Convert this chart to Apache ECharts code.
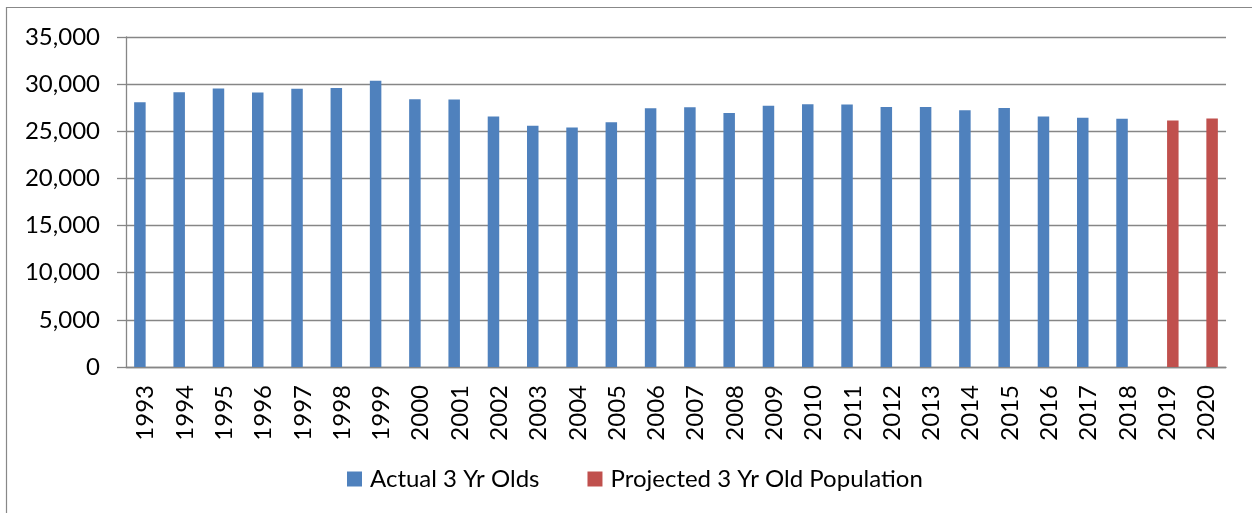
<!DOCTYPE html>
<html>
<head>
<meta charset="utf-8">
<script src="https://cdn.jsdelivr.net/npm/echarts@6/dist/echarts.min.js"></script>
<style>
html,body{margin:0;padding:0;background:#fff;}
#c{width:1252px;height:513px;}
</style>
</head>
<body>
<div id="c"></div>
<script>
var years = ['1993','1994','1995','1996','1997','1998','1999','2000','2001','2002','2003','2004','2005','2006','2007','2008','2009','2010','2011','2012','2013','2014','2015','2016','2017','2018','2019','2020'];
var actual = [28080,29150,29540,29110,29500,29580,30360,28400,28360,26580,25580,25400,25970,27430,27540,26930,27720,27860,27830,27570,27570,27220,27470,26580,26430,26330,null,null];
var projected = [null,null,null,null,null,null,null,null,null,null,null,null,null,null,null,null,null,null,null,null,null,null,null,null,null,null,26150,26360];
var yTicks = {min:0, max:35000, interval:5000};

var FONT = 'Lato';
var FS = 24;
var chart = echarts.init(document.getElementById('c'), null, {renderer:'canvas'});
chart.setOption({
  animation:false,
  backgroundColor:'#fff',
  graphic:[{type:'rect', shape:{x:6.5,y:7.5,width:1400,height:700}, style:{fill:'none', stroke:'#888', lineWidth:1.2}, silent:true}],
  grid:{left:126, right:26, top:37, bottom:146},
  legend:{
    bottom:17, left:342, itemWidth:15, itemHeight:15, itemGap:48, icon:'rect',
    textStyle:{fontFamily:FONT, fontSize:FS, color:'#000', padding:[0,0,0,3]},
    data:['Actual 3 Yr Olds','Projected 3 Yr Old Population']
  },
  xAxis:{
    type:'category', data:years,
    axisLine:{lineStyle:{color:'#868686', width:1.3}},
    axisTick:{length:8, lineStyle:{color:'#868686', width:1.3}},
    axisLabel:{rotate:90, margin:18, fontFamily:FONT, fontSize:FS, color:'#000', interval:0}
  },
  yAxis:{
    type:'value', min:yTicks.min, max:yTicks.max, interval:yTicks.interval,
    axisLine:{show:true, lineStyle:{color:'#868686', width:1.3}},
    axisTick:{show:true, length:9, lineStyle:{color:'#868686', width:1.3}},
    splitLine:{lineStyle:{color:'#868686', width:1.3}},
    axisLabel:{margin:26, fontFamily:FONT, fontSize:FS, color:'#000',
      formatter:function(v){return v.toLocaleString('en-US');}}
  },
  series:[
    {name:'Actual 3 Yr Olds', type:'bar', data:actual, barWidth:11.5, barGap:'0%', itemStyle:{color:'#4F81BD'}},
    {name:'Projected 3 Yr Old Population', type:'bar', data:projected, barWidth:11.5, barGap:'0%', itemStyle:{color:'#C0504D'}}
  ]
});
</script>
</body>
</html>
